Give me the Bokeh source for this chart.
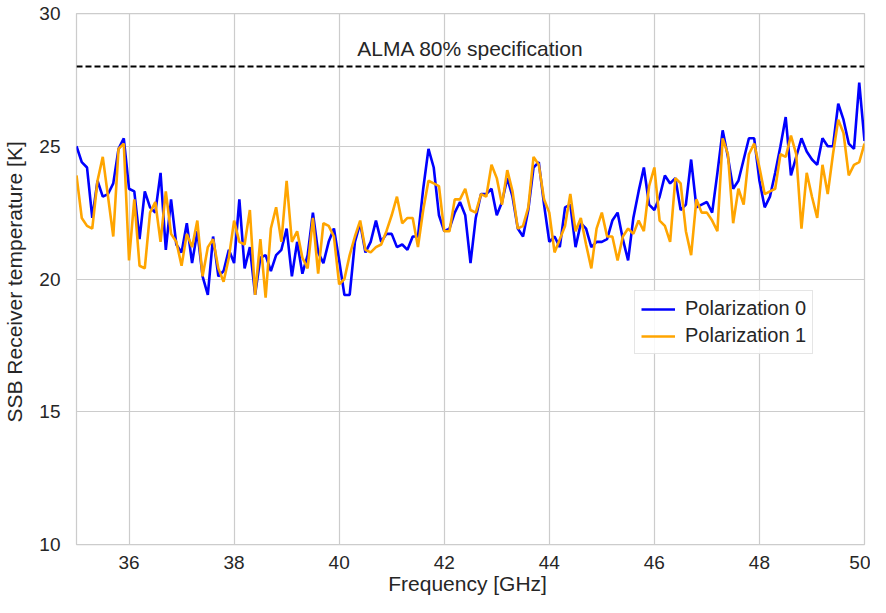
from bokeh.plotting import figure
from bokeh.models import Span, Label, FixedTicker, Range1d
from bokeh.embed import file_html
from bokeh.resources import INLINE

freq_ghz = [round(35.0 + 0.1 * i, 1) for i in range(151)]

pol0 = [25.0, 24.4, 24.2, 22.3, 23.7, 23.1, 23.2, 23.6, 24.9, 25.3,
        23.4, 23.3, 21.5, 23.3, 22.7, 22.5, 24.0, 21.1, 23.0, 21.3,
        21.0, 22.1, 20.6, 21.8, 20.1, 19.4, 21.6, 20.1, 20.3, 21.1,
        20.6, 23.0, 20.4, 21.2, 19.4, 20.8, 20.9, 20.3, 20.9, 21.1,
        21.9, 20.1, 21.4, 20.2, 20.9, 22.5, 21.0, 20.6, 21.4, 21.9,
        20.7, 19.4, 19.4, 21.4, 22.1, 21.0, 21.4, 22.2, 21.4, 21.7,
        21.7, 21.2, 21.3, 21.1, 21.6, 21.6, 23.4, 24.9, 24.2, 22.4,
        21.8, 21.9, 22.5, 22.9, 22.4, 20.6, 22.3, 23.2, 23.2, 23.4,
        22.4, 22.9, 23.8, 23.1, 21.9, 21.6, 22.6, 24.2, 24.4, 22.8,
        21.4, 21.6, 21.2, 22.7, 22.8, 21.2, 22.1, 21.9, 21.2, 21.4,
        21.4, 21.5, 22.2, 22.5, 21.5, 20.7, 22.3, 23.3, 24.2, 22.8,
        22.6, 23.1, 23.9, 23.6, 23.8, 22.6, 22.8, 24.5, 22.7, 22.8,
        22.9, 22.5, 24.0, 25.6, 24.6, 23.4, 23.7, 24.5, 25.3, 25.3,
        23.7, 22.7, 23.1, 24.0, 25.0, 26.1, 23.9, 24.6, 25.3, 24.8,
        24.5, 24.3, 25.3, 25.0, 25.0, 26.6, 26.0, 25.1, 24.9, 27.4,
        25.2]

pol1 = [23.9, 22.3, 22.0, 21.9, 23.7, 24.6, 23.1, 21.6, 24.9, 25.1,
        20.7, 23.0, 20.5, 20.4, 22.5, 22.9, 21.4, 23.3, 21.7, 21.4,
        20.5, 21.7, 21.2, 22.2, 20.1, 21.2, 21.5, 20.4, 19.9, 20.8,
        22.2, 21.4, 21.3, 22.6, 19.4, 21.5, 19.3, 21.9, 22.7, 21.4,
        23.7, 21.4, 21.8, 20.8, 20.4, 22.3, 20.2, 22.1, 22.0, 21.6,
        19.8, 20.0, 20.9, 21.6, 22.2, 21.1, 21.0, 21.2, 21.3, 21.8,
        22.4, 23.1, 22.1, 22.3, 22.3, 21.2, 22.6, 23.7, 23.6, 23.5,
        21.8, 21.8, 23.0, 23.0, 23.4, 22.6, 22.5, 23.2, 23.1, 24.3,
        23.8, 22.8, 24.1, 23.3, 21.9, 22.0, 22.7, 24.6, 24.3, 23.0,
        22.5, 21.0, 21.5, 22.0, 23.2, 21.8, 22.3, 21.3, 20.4, 21.9,
        22.5, 21.6, 21.6, 20.7, 21.6, 21.9, 21.7, 22.2, 21.8, 23.5,
        24.2, 22.2, 22.0, 21.4, 23.8, 23.6, 21.8, 20.9, 23.0, 22.5,
        22.5, 22.2, 21.8, 25.3, 24.7, 22.1, 23.4, 22.8, 24.7, 25.1,
        24.2, 23.2, 23.3, 23.4, 24.7, 24.6, 25.4, 24.7, 21.9, 24.0,
        23.1, 22.3, 24.3, 23.2, 24.7, 26.0, 25.5, 23.9, 24.3, 24.4,
        25.1]

spec_level = 28.0
spec_text = "ALMA 80% specification"
x_ticks = [36, 38, 40, 42, 44, 46, 48, 50]
y_ticks = [10, 15, 20, 25, 30]

FONT = "Liberation Sans"
TXT = "#262626"

p = figure(width=870, height=597, output_backend="svg", toolbar_location=None,
           x_range=Range1d(35, 50), y_range=Range1d(10, 30),
           min_border_left=60, min_border_right=6, min_border_top=13,
           min_border_bottom=40)

p.background_fill_color = "white"
p.border_fill_color = "white"
p.outline_line_color = "#cccccc"
p.outline_line_width = 1.25

p.line(freq_ghz, pol0, line_color="#0000ff", line_width=2.6, legend_label="Polarization 0")
p.line(freq_ghz, pol1, line_color="#ffa500", line_width=2.6, legend_label="Polarization 1")

p.add_layout(Span(location=spec_level, dimension="width", line_color="black",
                  line_width=2, line_dash="6 3"))
p.add_layout(Label(x=42.5, y=spec_level, y_offset=7, text=spec_text,
                   text_align="center", text_baseline="bottom",
                   text_font=FONT, text_font_size="21px", text_color=TXT))

p.xaxis.ticker = FixedTicker(ticks=x_ticks)
p.yaxis.ticker = FixedTicker(ticks=y_ticks)
p.xaxis.axis_label = "Frequency  [GHz]"
p.yaxis.axis_label = "SSB Receiver temperature  [K]"

for ax in (p.xaxis, p.yaxis):
    ax.axis_line_color = None
    ax.major_tick_line_color = None
    ax.minor_tick_line_color = None
    ax.major_label_text_font = FONT
    ax.major_label_text_font_size = "19px"
    ax.major_label_text_color = TXT
    ax.axis_label_text_font = FONT
    ax.axis_label_text_font_size = "21px"
    ax.axis_label_text_font_style = "normal"
    ax.axis_label_text_color = TXT
p.xaxis.major_label_standoff = 5
p.xaxis.axis_label_standoff = 0
p.yaxis.major_label_standoff = 10
p.yaxis.axis_label_standoff = 10

p.xgrid.grid_line_color = "#cccccc"
p.ygrid.grid_line_color = "#cccccc"
p.xgrid.grid_line_width = 1.2
p.ygrid.grid_line_width = 1.2

lg = p.legend[0]
lg.location = (558, 190)
lg.label_text_font = FONT
lg.label_text_font_size = "20px"
lg.label_text_color = TXT
lg.background_fill_color = "white"
lg.background_fill_alpha = 0.85
lg.border_line_color = "#cccccc"
lg.border_line_width = 1
lg.glyph_width = 34
lg.glyph_height = 20
lg.label_height = 20
lg.label_standoff = 10
lg.spacing = 4
lg.padding = 6
lg.margin = 0

open("out.html", "w").write(file_html(p, INLINE))
